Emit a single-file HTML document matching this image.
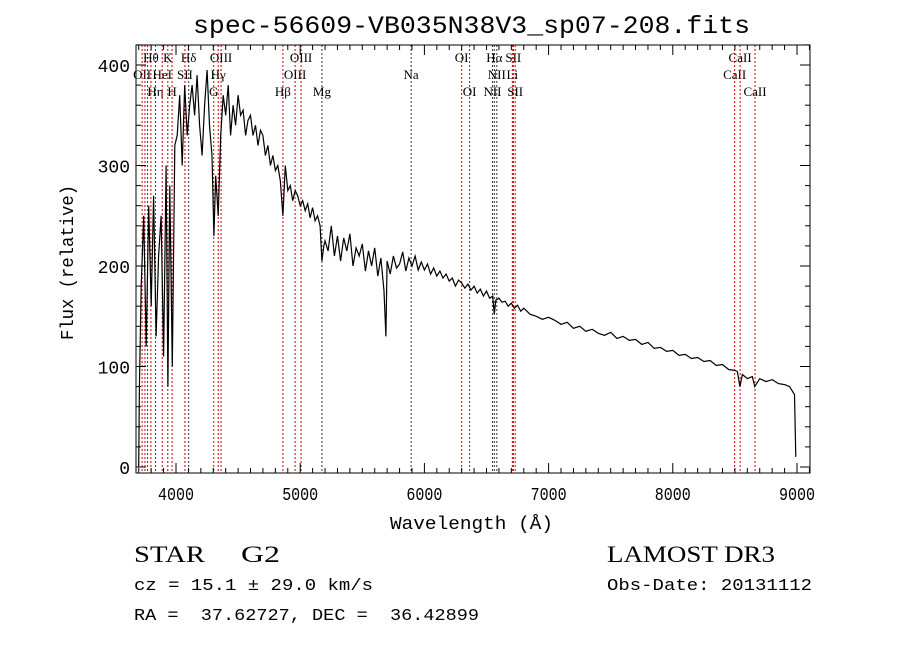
<!DOCTYPE html>
<html><head><meta charset="utf-8"><style>
body{margin:0;background:#fff;}
svg text{font-family:"Liberation Mono",monospace;fill:#000;white-space:pre;}
.lbl{font-family:"Liberation Serif",serif;font-size:13px;}
.ser{font-family:"Liberation Serif",serif;}
</style></head><body>
<svg id="chart" width="900" height="649" viewBox="0 0 900 649" xmlns="http://www.w3.org/2000/svg" xml:space="preserve">
<rect width="900" height="649" fill="#fff"/>
<text x="193" y="33" font-size="25" textLength="557" lengthAdjust="spacingAndGlyphs">spec-56609-VB035N38V3_sp07-208.fits</text>
<g id="lines"></g>
<g id="spec"></g>
<g id="axes"></g>
<text x="390" y="529" font-size="18" textLength="163" lengthAdjust="spacingAndGlyphs">Wavelength (Å)</text>
<text transform="translate(73,340) rotate(-90)" font-size="18" textLength="155" lengthAdjust="spacingAndGlyphs">Flux (relative)</text>
<text class="ser" x="134" y="562" font-size="23" textLength="71" lengthAdjust="spacingAndGlyphs">STAR</text>
<text class="ser" x="241" y="562" font-size="23" textLength="39" lengthAdjust="spacingAndGlyphs">G2</text>
<text x="134" y="590" font-size="17" textLength="239" lengthAdjust="spacingAndGlyphs">cz = 15.1 ± 29.0 km/s</text>
<text x="134" y="620" font-size="17" textLength="345" lengthAdjust="spacingAndGlyphs">RA =  37.62727, DEC =  36.42899</text>
<text class="ser" x="607" y="562" font-size="23" textLength="168" lengthAdjust="spacingAndGlyphs">LAMOST DR3</text>
<text x="607" y="590" font-size="17" textLength="205" lengthAdjust="spacingAndGlyphs">Obs-Date: 20131112</text>
</svg>
<script>
const wave=[3700,3705,3720,3740,3760,3780,3800,3820,3840,3860,3880,3900,3920,3935,3950,3970,3990,4010,4030,4050,4070,4090,4110,4130,4150,4170,4190,4210,4230,4250,4270,4290,4305,4320,4340,4360,4380,4400,4420,4440,4460,4480,4500,4520,4540,4560,4580,4600,4620,4640,4660,4680,4700,4720,4740,4760,4780,4800,4820,4840,4861,4880,4900,4920,4940,4960,4980,5000,5020,5040,5060,5080,5100,5120,5140,5160,5175,5190,
5200,5225,5250,5275,5300,5325,5350,5375,5400,5425,
5450,5475,5500,5525,5550,5575,5600,5625,5650,5675,5690,
5700,5725,5750,5775,5800,5825,5850,5875,5900,5925,
5950,5975,6000,
6025,6050,6075,6100,6125,6150,6175,6200,6225,6250,
6275,6300,6325,6350,6375,6400,6425,6450,6475,6500,
6525,6550,6563,6575,6600,6625,6650,6675,6700,6725,
6750,6775,6800,
6850,6900,6950,7000,7050,7100,7150,7200,7250,7300,
7350,7400,7450,7500,7550,7600,7650,7700,7750,7800,
7850,7900,7950,8000,8050,8100,8150,8200,8250,8300,
8350,8400,8450,8500,
8520,8540,8560,8600,8640,8660,8700,8750,8800,8850,8900,8940,8960,8980,8990];
const flux=[0,80,180,250,120,260,160,270,130,210,250,110,300,80,280,100,320,330,370,300,380,330,360,380,350,390,340,310,360,395,340,310,230,290,250,330,370,350,380,330,360,340,370,350,355,330,345,350,330,340,320,335,330,310,320,300,310,295,300,285,250,300,275,280,265,275,270,260,265,255,262,248,258,245,250,240,205,220,
225,215,240,210,230,205,228,215,232,200,
218,210,222,195,215,200,218,190,208,175,130,
205,192,210,198,202,214,195,208,200,210,
196,204,196,
202,192,198,190,195,188,192,185,188,180,
186,183,178,182,176,180,173,177,170,175,
168,170,152,166,168,164,165,160,163,158,
161,155,158,
152,150,147,149,146,142,144,138,140,135,
137,133,131,134,128,130,126,127,122,124,
118,119,115,116,111,112,108,109,105,106,
101,102,97,96,
95,80,92,88,90,80,88,85,87,83,82,80,76,72,10];
const lineWave=[3727,3750,3771,3798,3835,3889,3934,3968,4072,4102,4304,4340,4363,4861,4959,5007,5175,5893,6300,6364,6548,6563,6583,6708,6716,6731,8498,8542,8662];
const lineName=["OII","","","Hθ","Hη","HeI","K","H","SII","Hδ","G","Hγ","OIII","Hβ","OIII","OIII","Mg","Na","OI","OI","NII","Hα","NII","Li","SII","SII","CaII","CaII","CaII"];
const lineRow=[1,0,2,0,2,1,0,2,1,0,2,1,0,2,1,0,2,1,0,2,2,0,1,1,0,2,1,0,2];
const lineBlack=[0,0,0,0,0,0,0,0,0,1,0,0,0,0,0,0,1,1,0,0,1,1,1,0,0,0,0,0,0];
const xTicks=[4000,5000,6000,7000,8000,9000];
const yTicks=[0,100,200,300,400];
const NS="http://www.w3.org/2000/svg";
const X0=136,X1=810,Y0=45,Y1=473;
const x=w=>176+(w-4000)*0.1242;
const y=f=>467-f*1.005;
function mk(t,a,p){const e=document.createElementNS(NS,t);for(const k in a)e.setAttribute(k,a[k]);p.appendChild(e);return e;}
const L=document.getElementById('lines');
lineWave.forEach((w,i)=>{
 const l=mk('line',{x1:x(w),x2:x(w),y1:Y0,y2:Y1,stroke:lineBlack[i]?'#333':'#c00','stroke-width':1,'stroke-dasharray':'2,2'},L);
 
 
 if(lineName[i]){const t=mk('text',{x:x(w),y:62+lineRow[i]*17,'text-anchor':'middle',class:'lbl'},L);t.textContent=lineName[i];
 
 }
});
const S=document.getElementById('spec');
const n=Math.min(wave.length,flux.length);
let d='';for(let i=0;i<n;i++)d+=(i?'L':'M')+x(wave[i]).toFixed(1)+','+y(flux[i]).toFixed(1);
const p=mk('path',{d:d,fill:'none',stroke:'#000','stroke-width':1.2},S);


const A=document.getElementById('axes');
const fr=mk('rect',{x:X0,y:Y0,width:X1-X0,height:Y1-Y0,fill:'none',stroke:'#000','stroke-width':1},A);


for(let w=3700;w<=9100;w+=100){const len=w%1000===0?10:5;mk('line',{x1:x(w),x2:x(w),y1:Y1,y2:Y1-len,stroke:'#000'},A);mk('line',{x1:x(w),x2:x(w),y1:Y0,y2:Y0+len,stroke:'#000'},A);}
for(let f=0;f<=420;f+=20){const len=f%100===0?10:5;mk('line',{x1:X0,x2:X0+len,y1:y(f),y2:y(f),stroke:'#000'},A);mk('line',{x1:X1,x2:X1-len,y1:y(f),y2:y(f),stroke:'#000'},A);}
xTicks.forEach(v=>{const t=mk('text',{x:x(v)-18,y:500,'font-size':18,textLength:36,lengthAdjust:'spacingAndGlyphs'},A);t.textContent=v;
 
 });
yTicks.forEach(v=>{const t=mk('text',{x:130,y:y(v)+7,'text-anchor':'end','font-size':18},A);t.textContent=v;
 
 });
</script>
</body></html>
